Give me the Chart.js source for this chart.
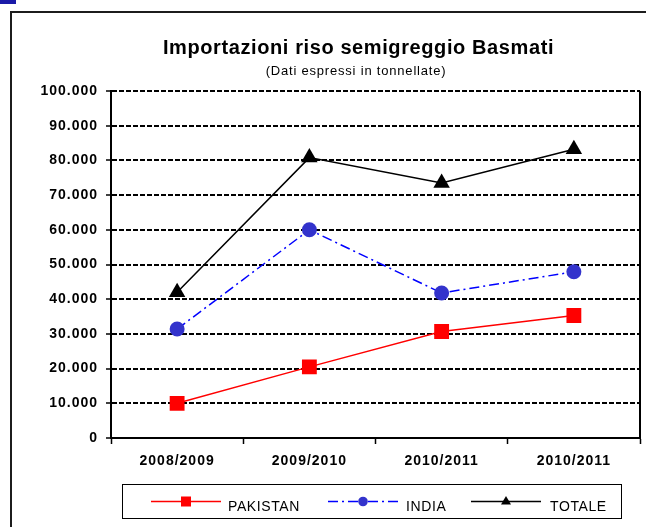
<!DOCTYPE html>
<html>
<head>
<meta charset="utf-8">
<script src="https://cdn.jsdelivr.net/npm/chart.js@4.4.1/dist/chart.umd.min.js"></script>
<style>
html,body{margin:0;padding:0;background:#fff;overflow:hidden;width:646px;height:527px;}
#wrap{position:relative;width:646px;height:527px;overflow:hidden;font-family:"Liberation Sans",Arial,sans-serif;color:#000;}
#mark{position:absolute;left:0;top:0;width:16px;height:4px;background:#1a1aa8;}
#frame{position:absolute;left:10px;top:11px;width:700px;height:600px;border:2px solid #1c1c1c;box-sizing:border-box;}
#c{position:absolute;left:0;top:0;}
#title{position:absolute;left:0;width:717px;top:37px;text-align:center;font-weight:bold;font-size:20px;line-height:20px;letter-spacing:0.6px;white-space:nowrap;}
#subtitle{position:absolute;left:0;width:712px;top:64px;text-align:center;font-size:13px;line-height:13px;letter-spacing:0.8px;white-space:nowrap;}
#legend{position:absolute;left:122px;top:484px;width:500px;height:35px;border:1.5px solid #000;box-sizing:border-box;}
.lgtxt{position:absolute;top:499px;font-size:14px;line-height:14px;letter-spacing:0.6px;white-space:nowrap;}
.lgsvg{position:absolute;top:494px;}
</style>
</head>
<body>
<div id="wrap">
  <div id="mark"></div>
  <div id="frame"></div>
  <canvas id="c" width="646" height="527"></canvas>
  <div id="title">Importazioni riso semigreggio Basmati</div>
  <div id="subtitle">(Dati espressi in tonnellate)</div>
  <div id="legend"></div>
</div>
<script>
// ---- data ----
const categories = ['2008/2009', '2009/2010', '2010/2011', '2010/2011'];
const seriesNames = ['PAKISTAN', 'INDIA', 'TOTALE'];
const pakistan = [10000, 20500, 30700, 35300];
const india = [31400, 60000, 41800, 47900];
const totale = [42000, 80800, 73500, 83200];
const yTicks = [0, 10000, 20000, 30000, 40000, 50000, 60000, 70000, 80000, 90000, 100000];

function fmt(v) {
  return String(v).replace(/\B(?=(\d{3})+(?!\d))/g, '.');
}

const FONT = '"Liberation Sans", Arial, sans-serif';

const styles = [
  {color: '#ff0000', fill: '#ff0000', dash: [], pointStyle: 'rect', radius: 10.5, width: 1.5},
  {color: '#0000ff', fill: '#3333cc', dash: [10, 4, 2, 4], pointStyle: 'circle', radius: 7.5, width: 1.5},
  {color: '#000000', fill: '#000000', dash: [], pointStyle: 'triangle', radius: 9.5, width: 1.5}
];
const seriesValues = [pakistan, india, totale];

const datasets = seriesNames.map((name, i) => ({
  label: name,
  data: seriesValues[i],
  borderColor: styles[i].color,
  borderWidth: styles[i].width,
  borderDash: styles[i].dash,
  pointStyle: styles[i].pointStyle,
  pointRadius: styles[i].radius,
  pointHoverRadius: styles[i].radius,
  pointBackgroundColor: styles[i].fill,
  pointBorderColor: styles[i].fill,
  pointBorderWidth: 0,
  tension: 0,
  fill: false
}));

const rightBorder = {
  id: 'rightBorder',
  beforeDraw(chart) {
    chart.ctx.letterSpacing = '1px';
  },
  beforeDatasetsDraw(chart) {
    const {ctx, chartArea} = chart;
    ctx.save();
    ctx.strokeStyle = '#000';
    ctx.lineWidth = 2;
    ctx.beginPath();
    ctx.moveTo(chartArea.right, chartArea.top);
    ctx.lineTo(chartArea.right, chartArea.bottom);
    ctx.stroke();
    ctx.restore();
    ctx.letterSpacing = '0px';
  }
};

new Chart(document.getElementById('c'), {
  type: 'line',
  data: {labels: categories, datasets},
  plugins: [rightBorder],
  options: {
    responsive: false,
    animation: false,
    devicePixelRatio: 1,
    layout: {autoPadding: false, padding: {top: 91, right: 6, bottom: 0, left: 0}},
    plugins: {legend: {display: false}, tooltip: {enabled: false}, title: {display: false}},
    scales: {
      x: {
        type: 'category',
        offset: true,
        afterFit(scale) { scale.height = 89; },
        grid: {offset: true, drawOnChartArea: false, drawTicks: true, tickLength: 6, tickColor: '#000', tickWidth: 1.5, color: '#000', tickBorderDash: []},
        border: {display: true, color: '#000', width: 2},
        ticks: {color: '#000', font: {family: FONT, size: 14, weight: 'bold'}, padding: 9, maxRotation: 0, autoSkip: false}
      },
      y: {
        min: 0, max: 100000,
        afterFit(scale) { scale.width = 111; },
        afterBuildTicks(scale) { scale.ticks = yTicks.map(v => ({value: v})); },
        grid: {color: '#000', lineWidth: 2, drawTicks: true, tickLength: 5, tickColor: '#000', tickWidth: 1.5, tickBorderDash: []},
        border: {display: true, color: '#000', width: 2, dash: [5, 2]},
        ticks: {color: '#000', font: {family: FONT, size: 14, weight: 'bold'}, padding: 8, callback: v => fmt(v)}
      }
    }
  }
});

// ---- legend (HTML) ----
const legendSamples = [151, 328, 471];
const legendTexts = [228, 406, 550];
const wrap = document.getElementById('wrap');
const svgNS = 'http://www.w3.org/2000/svg';
seriesNames.forEach((name, i) => {
  const s = styles[i];
  const svg = document.createElementNS(svgNS, 'svg');
  svg.setAttribute('class', 'lgsvg');
  svg.setAttribute('width', '70');
  svg.setAttribute('height', '15');
  svg.style.left = legendSamples[i] + 'px';
  const line = document.createElementNS(svgNS, 'line');
  line.setAttribute('x1', '0'); line.setAttribute('x2', '70');
  line.setAttribute('y1', '7.5'); line.setAttribute('y2', '7.5');
  line.setAttribute('stroke', s.color);
  line.setAttribute('stroke-width', '1.5');
  if (s.dash.length) line.setAttribute('stroke-dasharray', s.dash.join(' '));
  svg.appendChild(line);
  let m;
  if (s.pointStyle === 'rect') {
    m = document.createElementNS(svgNS, 'rect');
    m.setAttribute('x', '30'); m.setAttribute('y', '2.5');
    m.setAttribute('width', '10'); m.setAttribute('height', '10');
  } else if (s.pointStyle === 'circle') {
    m = document.createElementNS(svgNS, 'circle');
    m.setAttribute('cx', '35'); m.setAttribute('cy', '7.5'); m.setAttribute('r', '4.8');
  } else {
    m = document.createElementNS(svgNS, 'polygon');
    m.setAttribute('points', '35,2 40,10.5 30,10.5');
  }
  m.setAttribute('fill', s.fill);
  svg.appendChild(m);
  wrap.appendChild(svg);
  const t = document.createElement('div');
  t.className = 'lgtxt';
  t.style.left = legendTexts[i] + 'px';
  t.textContent = name;
  wrap.appendChild(t);
});
</script>
</body>
</html>
